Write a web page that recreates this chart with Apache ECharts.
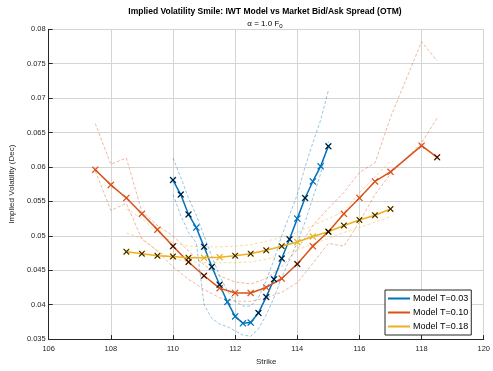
<!DOCTYPE html>
<html>
<head>
<meta charset="utf-8">
<script src="https://cdn.jsdelivr.net/npm/echarts@6/dist/echarts.min.js"></script>
<style>html,body{margin:0;padding:0;background:#fff}#c{width:493px;height:371px}</style>
</head>
<body>
<div id="c"></div>
<script>
// ---------- data ----------
const xTicks = [106, 108, 110, 112, 114, 116, 118, 120];
const yTicks = [0.035, 0.04, 0.045, 0.05, 0.055, 0.06, 0.065, 0.07, 0.075, 0.08];

// T = 0.03
const strikes03 = [110,110.25,110.5,110.75,111,111.25,111.5,111.75,112,112.25,112.5,112.75,113,113.25,113.5,113.75,114,114.25,114.5,114.75,115];
const model03 = [0.0581,0.0560,0.0531,0.0512,0.0484,0.0455,0.0429,0.0404,0.0383,0.0373,0.0374,0.0388,0.0411,0.0437,0.0467,0.0495,0.0525,0.0555,0.0579,0.0601,0.0630];
const mid03   = [0.0581,0.0560,0.0531,null,0.0484,0.0455,0.0429,null,null,null,null,0.0388,0.0411,0.0437,0.0467,0.0495,null,0.0555,null,null,0.0630];
const ask03   = [0.0613,0.0585,0.0555,0.0530,0.0500,0.0470,0.0442,0.0420,0.0405,0.0398,0.0398,0.0410,0.0435,0.0465,0.0500,0.0530,0.0560,0.0600,0.0635,0.0668,0.0711];
const bid03   = [0.0560,0.0530,0.0505,0.0490,0.0400,0.0380,0.0372,0.0368,0.0362,0.0356,0.0354,0.0365,0.0385,0.0410,0.0440,0.0465,0.0490,0.0520,0.0555,0.0590,0.0637];

// T = 0.10
const strikes10 = [107.5,108,108.5,109,109.5,110,110.5,111,111.5,112,112.5,113,113.5,114,114.5,115,115.5,116,116.5,117,118,118.5];
const model10 = [0.0596,0.0574,0.0555,0.0532,0.0509,0.0485,0.0462,0.0442,0.0424,0.0417,0.0417,0.0425,0.0438,0.0459,0.0485,0.0506,0.0532,0.0555,0.0579,0.0593,0.0631,0.0614];
const mid10   = [null,null,null,null,null,0.0485,0.0462,0.0442,null,null,null,null,null,0.0459,null,0.0506,null,null,null,null,null,0.0614];
const ask10   = [0.0663,0.0604,0.0613,0.0535,0.0515,0.0500,0.0478,0.0458,0.0442,0.0433,0.0430,0.0438,0.0455,0.0480,0.0515,0.0540,0.0563,0.0592,0.0606,0.0672,0.0782,0.0754];
const bid10   = [0.0594,0.0537,0.0547,0.0495,0.0478,0.0455,0.0437,0.0422,0.0410,0.0405,0.0405,0.0410,0.0418,0.0432,0.0460,0.0489,0.0485,0.0520,0.0560,0.0590,0.0635,0.0671];

// T = 0.18
const strikes18 = [108.5,109,109.5,110,110.5,111,111.5,112,112.5,113,113.5,114,114.5,115,115.5,116,116.5,117];
const model18 = [0.0477,0.0474,0.0471,0.0470,0.0468,0.0468,0.0469,0.0471,0.0474,0.0479,0.0485,0.0491,0.0499,0.0506,0.0515,0.0523,0.0530,0.0539];
const mid18   = [0.0477,0.0474,0.0471,0.0470,0.0468,null,null,0.0471,0.0474,0.0479,0.0485,null,null,0.0506,0.0515,0.0523,0.0530,0.0539];
const ask18   = [0.0539,0.0525,0.0505,0.0490,0.0485,0.0484,0.0484,0.0485,0.0487,0.0492,0.0498,0.0505,0.0515,0.0525,0.0535,0.0563,0.0585,0.0609];
const bid18   = [0.0504,0.0497,0.0478,0.0466,0.0463,0.0461,0.0461,0.0461,0.0462,0.0466,0.0472,0.0480,0.0488,0.0496,0.0505,0.0512,0.0520,0.0528];

const names = ['Model T=0.03', 'Model T=0.10', 'Model T=0.18'];
const colors = ['#0072BD', '#D95319', '#EDB120'];

// ---------- chart ----------
const d = 1.25;
const X = `path://M0,${d} L${d},0 L5,${5-d} L${10-d},0 L10,${d} L${5+d},5 L10,${10-d} L${10-d},10 L5,${5+d} L${d},10 L0,${10-d} L${5-d},5 Z`;
const pairs = (xs, ys) => xs.map((x, i) => [x, ys[i]]);

const groups = [
  [strikes03, model03, mid03, ask03, bid03],
  [strikes10, model10, mid10, ask10, bid10],
  [strikes18, model18, mid18, ask18, bid18]
];

const series = [];
groups.forEach((g, k) => {
  const [xs, m, mid, ask, bid] = g;
  [ask, bid].forEach(arr => series.push({
    type: 'line', data: pairs(xs, arr), showSymbol: false, silent: true,
    lineStyle: { color: colors[k], width: 1, type: [3, 2], opacity: 0.42 },
    itemStyle: { color: colors[k] }, z: 2
  }));
  series.push({
    name: names[k], type: 'line', data: pairs(xs, m),
    symbol: X, symbolSize: 7, showAllSymbol: true,
    lineStyle: { color: colors[k], width: 1.5 },
    itemStyle: { color: colors[k] }, z: 3
  });
  series.push({
    type: 'scatter', data: pairs(xs, mid).filter(p => p[1] !== null),
    symbol: X, symbolSize: 6, itemStyle: { color: '#000' }, z: 4, silent: true
  });
});

const chart = echarts.init(document.getElementById('c'), null, { renderer: 'canvas' });
const font = 'Liberation Sans, Arial, Helvetica, sans-serif';
chart.setOption({
  animation: false,
  textStyle: { fontFamily: font },
  title: [
    { text: 'Implied Volatility Smile: IWT Model vs Market Bid/Ask Spread (OTM)', left: 260, textAlign: 'center', top: 2,
      textStyle: { fontSize: 8.5, fontWeight: 'bold', color: '#000', fontFamily: font } },
    { text: 'α = 1.0 F{s|0}', left: 260, textAlign: 'center', top: 13,
      textStyle: { fontSize: 8, fontWeight: 'normal', color: '#000', fontFamily: font,
        rich: { s: { fontSize: 6, verticalAlign: 'bottom', padding: [5, 0, 0, 0], fontFamily: font } } } }
  ],
  grid: { left: 34.3, right: 7.2, top: 29.3, bottom: 26.7, containLabel: false },
  legend: {
    data: names, orient: 'vertical', left: 385, top: 290,
    itemWidth: 22, itemHeight: 2, itemGap: 5,
    icon: 'rect',
    padding: [4, 3, 4, 3],
    borderColor: '#262626', borderWidth: 1, borderRadius: 0, backgroundColor: '#fff',
    textStyle: { fontSize: 9, color: '#000', fontFamily: font, padding: [0, 0, 0, -2] }
  },
  xAxis: {
    type: 'value', min: 106, max: 120, interval: 2,
    name: 'Strike', nameLocation: 'middle', nameGap: 18,
    nameTextStyle: { fontSize: 8, color: '#262626' },
    axisLine: { show: true, lineStyle: { color: '#262626', width: 1 } },
    axisTick: { show: true, inside: true, length: 4, lineStyle: { color: '#262626' } },
    axisLabel: { fontSize: 7.5, color: '#262626', margin: 6, formatter: v => String(v) },
    splitLine: { show: true, lineStyle: { color: '#d4d4d4', width: 1 } }
  },
  yAxis: {
    type: 'value', min: 0.035, max: 0.08, interval: 0.005,
    name: 'Implied Volatility (Dec)', nameLocation: 'middle', nameGap: 24,
    nameTextStyle: { fontSize: 8, color: '#262626' },
    axisLine: { show: true, lineStyle: { color: '#262626', width: 1 } },
    axisTick: { show: true, inside: true, length: 4, lineStyle: { color: '#262626' } },
    axisLabel: { fontSize: 7.5, color: '#262626', margin: 3, formatter: v => String(+v.toFixed(3)) },
    splitLine: { show: true, lineStyle: { color: '#d4d4d4', width: 1 } }
  },
  series: series
});
</script>
</body>
</html>
